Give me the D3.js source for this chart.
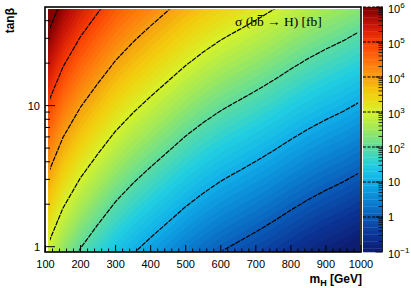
<!DOCTYPE html>
<html>
<head>
<meta charset="utf-8">
<script src="https://cdn.jsdelivr.net/npm/d3@7"></script>
<style>
body{margin:0;background:#fff}
text{font-family:"Liberation Sans",Arial,sans-serif;fill:#000}
</style>
</head>
<body>
<div id="canvas"></div>
<script>
"use strict"

let svgWidth=411
let svgHeight=288

// grid columns: Higgs mass (GeV)
let masses=[100,150,200,250,300,350,400,450,500,550,600,650,700,750,800,850,900,950,1000]
// grid rows: tan(beta)
let tanbRows=[0.9,1,2,3,5,10,20,30,50]
// sigma(bb -> H) in fb, one row per tanb value
let xsec=[
 [909,228,85.1,38.8,18.5,10.2,6.00,3.62,2.18,1.41,0.952,0.689,0.500,0.354,0.245,0.173,0.128,0.0972,0.0705],
 [1122,282,105,47.9,22.9,12.6,7.41,4.47,2.69,1.74,1.18,0.851,0.617,0.437,0.302,0.214,0.158,0.120,0.087],
 [4490,1130,420,192,91.6,50.4,29.6,17.9,10.8,6.96,4.70,3.40,2.47,1.75,1.21,0.856,0.632,0.480,0.348],
 [10100,2540,945,431,206,113,66.7,40.2,24.2,15.7,10.6,7.66,5.55,3.93,2.72,1.93,1.42,1.08,0.783],
 [28100,7050,2630,1200,573,315,185,112,67.3,43.5,29.4,21.3,15.4,10.9,7.55,5.35,3.95,3.00,2.18],
 [112000,28200,10500,4790,2290,1260,741,447,269,174,118,85.1,61.7,43.7,30.2,21.4,15.8,12.0,8.70],
 [449000,113000,42000,19200,9160,5040,2960,1790,1080,696,470,340,247,175,121,85.6,63.2,48.0,34.8],
 [1010000,254000,94500,43100,20600,11300,6670,4020,2420,1570,1060,766,555,393,272,193,142,108,78.3],
 [2810000,705000,263000,120000,57300,31500,18500,11200,6730,4350,2940,2130,1540,1090,755,535,395,300,218]
]
let xTicks=[100,200,300,400,500,600,700,800,900,1000]
let yTicks=[1,10]
let zTicks=[0.1,1,10,100,1000,10000,100000,1000000]
let zLabels=[["10","\u22121"],["1",""],["10",""],["10","2"],["10","3"],["10","4"],["10","5"],["10","6"]]
let contourLevels=[1,10,100,1000,10000,100000,1000000]
// palette (log10 sigma -> colour)
let paletteLevels=[-1,-0.5,0,0.5,1,1.5,2,2.5,3,3.5,4,4.5,5,5.5,6]
let paletteColors=["#0d1a6e","#0b3596","#0a5cb8","#0b86d4","#10aee8","#22cfe0","#5ddc9f","#9ee85c","#d6f22a","#f2d00e","#f7a010","#ff6e0c","#fb3c04","#c81408","#7a0000"]

let drawing=d3.select("#canvas")
    .append("svg")
    .attr("width",svgWidth)
    .attr("height",svgHeight)

let x=d3.scaleLinear().domain([100,1000]).range([45.5,361])
let y=d3.scaleLog().domain([0.917,50]).range([252,7])
let z=d3.scaleLog().domain([0.1,1e6]).range([252,7])
let palette=d3.scaleLinear().domain(paletteLevels).range(paletteColors).clamp(true)

let nx=masses.length, ny=tanbRows.length
let values=xsec.flat().map(v=>Math.log10(v))
let gridMass=d3.scaleLinear().domain([0.5,nx-0.5]).range([masses[0],masses[nx-1]])
let gridTanb=d3.scaleLinear().domain(tanbRows.map((d,i)=>i+0.5)).range(tanbRows.map(d=>Math.log10(d)))

function gridPoint(p){
    return [x(gridMass(p[0])).toFixed(2),y(Math.pow(10,gridTanb(p[1]))).toFixed(2)]
}
function contourPath(geom){
    return geom.coordinates.map(poly=>poly.map(ring=>"M"+ring.map(p=>gridPoint(p).join(",")).join("L")+"Z").join("")).join("")
}

let defs=drawing.append("defs")
defs.append("clipPath").attr("id","heatClip").append("rect")
    .attr("x",48).attr("y",9).attr("width",312).attr("height",243)
defs.append("clipPath").attr("id","lineClip").append("rect")
    .attr("x",50).attr("y",9.5).attr("width",308).attr("height",241)

// heat map as filled contour bands
let heat=drawing.append("g").attr("clip-path","url(#heatClip)")
let bandLevels=d3.range(1,70).map(i=>-1+i/10)
heat.append("rect")
    .attr("x",48).attr("y",9).attr("width",312).attr("height",243)
    .attr("fill",palette(-0.95))
let contourGen=d3.contours().size([nx,ny])
heat.selectAll("path.band")
    .data(contourGen.thresholds(bandLevels)(values))
    .join("path")
    .attr("class","band")
    .attr("d",d=>contourPath(d))
    .attr("fill",d=>palette(d.value+0.05))

// decade contour lines
drawing.append("g").attr("clip-path","url(#lineClip)")
    .selectAll("path")
    .data(contourGen.thresholds(contourLevels.map(v=>Math.log10(v)))(values))
    .join("path")
    .attr("d",d=>contourPath(d))
    .attr("fill","none")
    .attr("stroke","black")
    .attr("stroke-width",1.2)
    .attr("stroke-dasharray","5,1")

// frame
drawing.append("rect")
    .attr("x",45).attr("y",7).attr("width",316).attr("height",245)
    .attr("fill","none").attr("stroke","black").attr("stroke-width",1.6)

// x axis ticks
let xMinor=d3.range(100,1001,20)
drawing.append("g").selectAll("line").data(xMinor).join("line")
    .attr("x1",d=>x(d)).attr("x2",d=>x(d))
    .attr("y1",252).attr("y2",d=>d%100===0?245:248.5)
    .attr("stroke","black").attr("stroke-width",1)
drawing.append("g").selectAll("text").data(xTicks).join("text")
    .attr("x",d=>x(d)).attr("y",267.5)
    .attr("text-anchor","middle").attr("font-size",11)
    .text(d=>d)

// y axis ticks
let yMinor=[]
;[1,10].forEach(dec=>{for(let k=1;k<10;k++){let v=k*dec;if(v>=0.917&&v<50)yMinor.push(v)}})
drawing.append("g").selectAll("line").data(yMinor).join("line")
    .attr("x1",45).attr("x2",d=>yTicks.includes(d)?55:50)
    .attr("y1",d=>y(d)).attr("y2",d=>y(d))
    .attr("stroke","black").attr("stroke-width",1)
drawing.append("g").selectAll("text").data(yTicks).join("text")
    .attr("x",40).attr("y",d=>y(d)+4)
    .attr("text-anchor","end").attr("font-size",11)
    .text(d=>d)

// axis titles
drawing.append("text")
    .attr("transform","translate(14,8) rotate(-90)")
    .attr("text-anchor","end").attr("font-size",12).attr("font-weight","bold")
    .text("tan\u03b2")
let xTitle=drawing.append("text")
    .attr("x",362).attr("y",283)
    .attr("text-anchor","end").attr("font-size",12).attr("font-weight","bold")
xTitle.append("tspan").text("m")
xTitle.append("tspan").attr("font-size",9).attr("dy",3).text("H")
xTitle.append("tspan").attr("dy",-3).text(" [GeV]")

// plot label, with a bar drawn over the second b
let label=drawing.append("text")
    .attr("x",235).attr("y",26)
    .attr("font-size",13.5)
    .style("font-family","'Liberation Serif','Times New Roman',serif")
    .text("\u03c3 (bb \u2192 H) [fb]")
let bBox=label.node().getExtentOfChar(4)
drawing.append("line")
    .attr("x1",bBox.x+0.8).attr("x2",bBox.x+bBox.width-0.8)
    .attr("y1",bBox.y+1.5).attr("y2",bBox.y+1.5)
    .attr("stroke","black").attr("stroke-width",0.9)

// colour bar
let barX=363, barW=19.5
let barLevels=d3.range(0,70).map(i=>-1+i/10)
drawing.append("g").selectAll("rect").data(barLevels).join("rect")
    .attr("x",barX).attr("width",barW)
    .attr("y",d=>z(Math.pow(10,d+0.1)))
    .attr("height",d=>z(Math.pow(10,d))-z(Math.pow(10,d+0.1))+0.3)
    .attr("fill",d=>palette(d+0.05))
drawing.append("g").selectAll("line").data(contourLevels).join("line")
    .attr("x1",barX).attr("x2",barX+barW)
    .attr("y1",d=>z(d)).attr("y2",d=>z(d))
    .attr("stroke","black").attr("stroke-width",1.2).attr("stroke-dasharray","3,1.5")
let zMinor=[]
zTicks.forEach(dec=>{for(let k=1;k<10;k++){let v=k*dec;if(v<=1e6*1.0001)zMinor.push(v)}})
drawing.append("g").selectAll("line").data(zMinor).join("line")
    .attr("x1",barX+barW).attr("x2",(d,i)=>i%9===0?barX+barW-7:barX+barW-4)
    .attr("y1",d=>z(d)).attr("y2",d=>z(d))
    .attr("stroke","black").attr("stroke-width",0.8)
drawing.append("line")
    .attr("x1",barX+barW).attr("x2",barX+barW).attr("y1",7).attr("y2",252)
    .attr("stroke","black").attr("stroke-width",0.8)
let zText=drawing.append("g").selectAll("text").data(zTicks).join("text")
    .attr("x",388)
    .attr("y",(d,i)=>z(d)+(zLabels[i][1]?6:4))
    .attr("font-size",11)
zText.append("tspan").text((d,i)=>zLabels[i][0])
zText.append("tspan").attr("font-size",8).attr("dy",-5).text((d,i)=>zLabels[i][1])
</script>
</body>
</html>
